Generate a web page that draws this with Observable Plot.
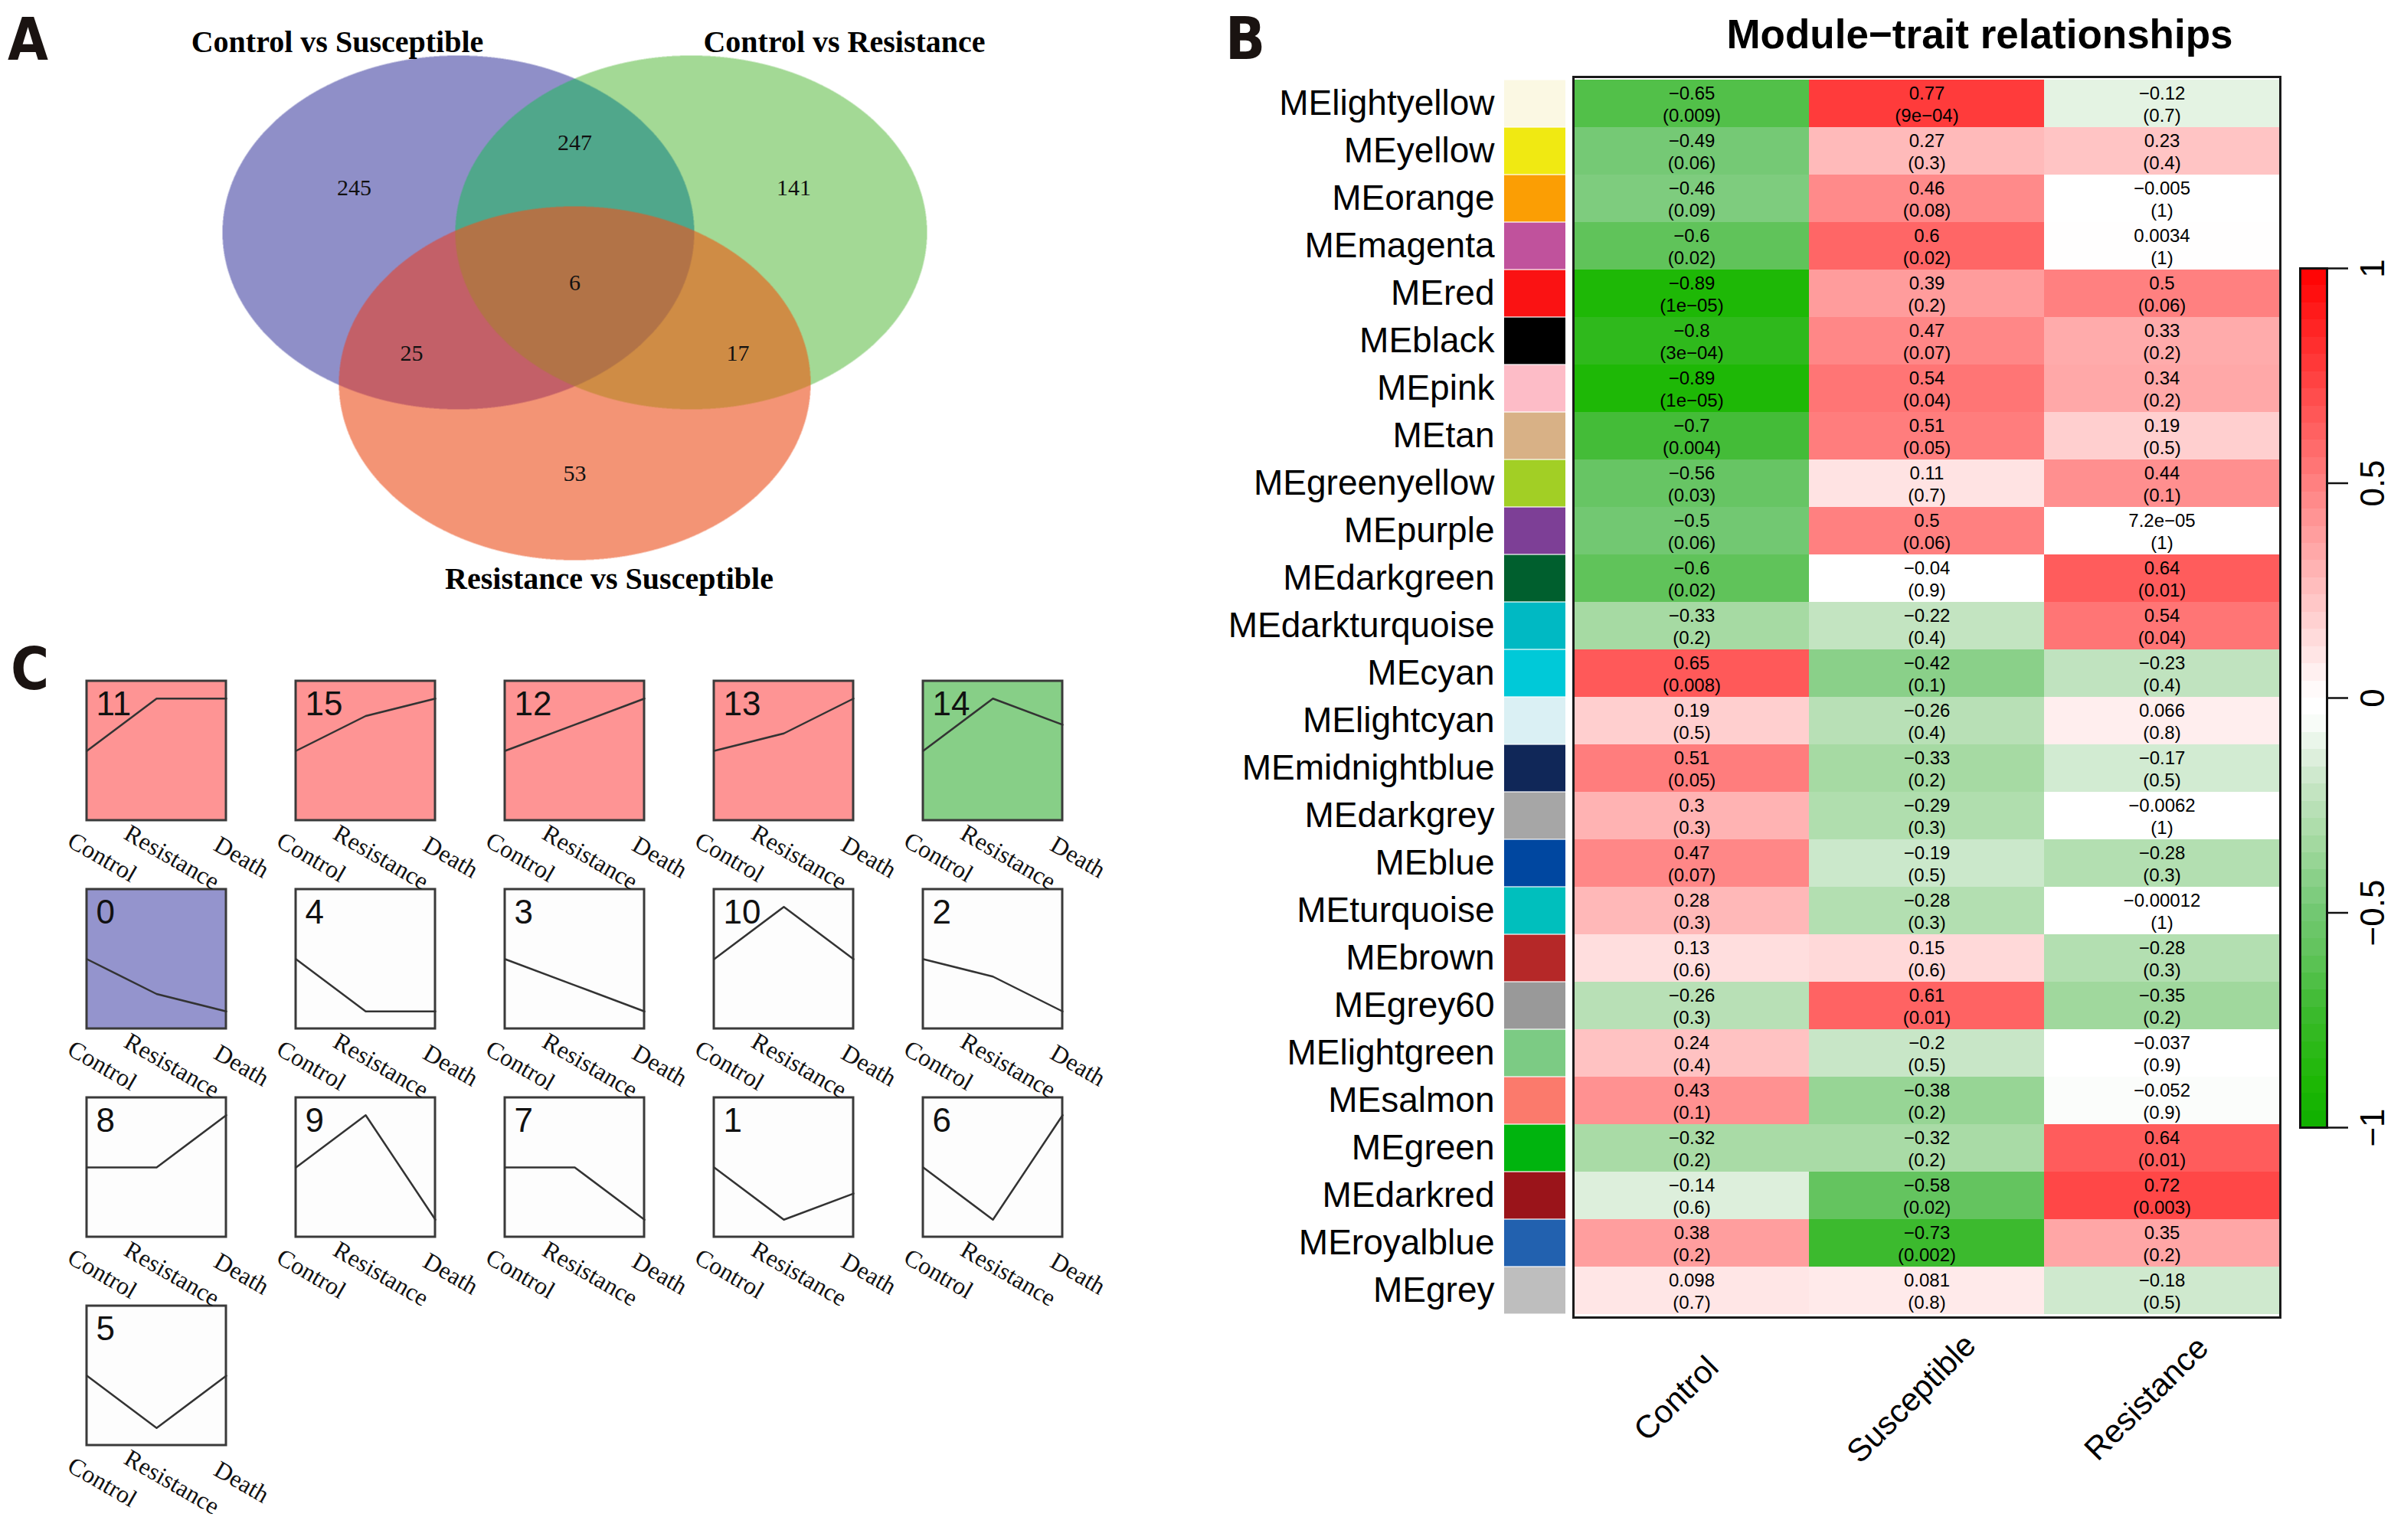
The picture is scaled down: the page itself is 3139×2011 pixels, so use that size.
<!DOCTYPE html>
<html><head><meta charset="utf-8">
<script src="https://cdn.jsdelivr.net/npm/d3@7"></script>
<script src="https://cdn.jsdelivr.net/npm/@observablehq/plot@0.6"></script>
<style>
html,body{margin:0;padding:0;background:#fff;}
#root{position:relative;width:3139px;height:2011px;background:#fff;overflow:hidden;}
.abs{position:absolute;}
.letter{position:absolute;line-height:1;white-space:nowrap;font-family:"Liberation Sans Narrow","DejaVu Sans Condensed","Liberation Sans",sans-serif;font-weight:bold;font-size:76px;color:#1a1311;}
.btitle{position:absolute;line-height:1;white-space:nowrap;font-family:"Liberation Sans",Arial,sans-serif;font-weight:bold;font-size:53px;color:#000;transform:translateX(-50%);}
</style></head><body><div id="root"></div>
<script>
// ---------------- DATA ----------------
// Panel A: Venn
const vennSets = ["Control vs Susceptible", "Control vs Resistance", "Resistance vs Susceptible"];
const vennRegionKeys = [1, 2, 4, 3, 5, 6, 7];           // membership bitmask of each region
const vennCounts = [245, 141, 53, 247, 25, 17, 6];

// Panel B: module-trait heatmap
const modules = ["MElightyellow","MEyellow","MEorange","MEmagenta","MEred","MEblack","MEpink","MEtan","MEgreenyellow","MEpurple","MEdarkgreen","MEdarkturquoise","MEcyan","MElightcyan","MEmidnightblue","MEdarkgrey","MEblue","MEturquoise","MEbrown","MEgrey60","MElightgreen","MEsalmon","MEgreen","MEdarkred","MEroyalblue","MEgrey"];
const moduleSwatches = ["#fbf8e3","#f0e912","#fb9e04","#c0529c","#fa1213","#000000","#fdbcc7","#d8b186","#a2cf25","#7d3f96","#005f2e","#00b9c3","#00c9d8","#daf0f4","#102758","#a6a6a6","#0047a0","#00bfbd","#b52828","#999999","#7ccb84","#fb7a6c","#00b40e","#9a141a","#2261af","#bebebe"];
const traits = ["Control","Susceptible","Resistance"];
const corControl     = [-0.65,-0.49,-0.46,-0.6,-0.89,-0.8,-0.89,-0.7,-0.56,-0.5,-0.6,-0.33,0.65,0.19,0.51,0.3,0.47,0.28,0.13,-0.26,0.24,0.43,-0.32,-0.14,0.38,0.098];
const pControl       = [0.009,0.06,0.09,0.02,1e-5,3e-4,1e-5,0.004,0.03,0.06,0.02,0.2,0.008,0.5,0.05,0.3,0.07,0.3,0.6,0.3,0.4,0.1,0.2,0.6,0.2,0.7];
const corSusceptible = [0.77,0.27,0.46,0.6,0.39,0.47,0.54,0.51,0.11,0.5,-0.04,-0.22,-0.42,-0.26,-0.33,-0.29,-0.19,-0.28,0.15,0.61,-0.2,-0.38,-0.32,-0.58,-0.73,0.081];
const pSusceptible   = [9e-4,0.3,0.08,0.02,0.2,0.07,0.04,0.05,0.7,0.06,0.9,0.4,0.1,0.4,0.2,0.3,0.5,0.3,0.6,0.01,0.5,0.2,0.2,0.02,0.002,0.8];
const corResistance  = [-0.12,0.23,-0.005,0.0034,0.5,0.33,0.34,0.19,0.44,7.2e-5,0.64,0.54,-0.23,0.066,-0.17,-0.0062,-0.28,-0.00012,-0.28,-0.35,-0.037,-0.052,0.64,0.72,0.35,-0.18];
const pResistance    = [0.7,0.4,1,1,0.06,0.2,0.2,0.5,0.1,1,0.01,0.04,0.4,0.8,0.5,1,0.3,1,0.3,0.2,0.9,0.9,0.01,0.003,0.2,0.5];
const colorbarTicks = [-1, -0.5, 0, 0.5, 1];

// Panel C: expression profiles
const stages = ["Control","Resistance","Death"];
const profileIds = [11,15,12,13,14,0,4,3,10,2,8,9,7,1,6,5];
const profileValues = [[0,1,1],[0,2,3],[0,1,2],[0,1,3],[0,2,1],[0,-2,-3],[0,-1,-1],[0,-1,-2],[0,1,0],[0,-1,-3],[0,0,1],[0,1,-1],[0,0,-1],[0,-2,-1],[0,-1,1],[0,-1,0]];
const profileFills = ["#fe9494","#fe9494","#fe9494","#fe9494","#87cf87","#9494cd","#fdfdfd","#fdfdfd","#fdfdfd","#fdfdfd","#fdfdfd","#fdfdfd","#fdfdfd","#fdfdfd","#fdfdfd","#fdfdfd"];

// ---------------- LAYOUT / STYLE ----------------
const vennLayout = {
  ellipses: [{cx:598, cy:303, rx:308, ry:231}, {cx:902, cy:303, rx:308, ry:231}, {cx:750, cy:500, rx:308, ry:231}],
  titlePos: [[440,67],[1102,67],[795,768]],
  regionPos: {1:[462,245], 2:[1036,245], 4:[750,618], 3:[750,186], 5:[537,461], 6:[963,461], 7:[750,369]},
  regionColors: {0:"#ffffff",1:"#8f8fc8",2:"#a3d995",4:"#f39475",3:"#50a78b",5:"#c36068",6:"#cf8c45",7:"#b27347"}
};
const heatColor = {
  type: "linear",
  domain: [-1, -0.89, -0.73, -0.6, -0.5, -0.33, -0.2, -0.04, 0, 1],
  range: ["#0fb000", "#1eb806", "#3cba2e", "#60c35a", "#72c872", "#a6daa3", "#c8e6c7", "#ffffff", "#ffffff", "#ff0000"],
  interpolate: "rgb", clamp: true
};
const SANS = "'Liberation Sans', Arial, Helvetica, sans-serif";
const SERIF = "'Liberation Serif', 'Times New Roman', serif";
const baseStyle = `max-width:none;overflow:visible;background:transparent;font-family:${SANS};`;

function rfmt(v) {
  const fixed = String(v);
  const sci = v.toExponential().replace(/e([+-])(\d)$/, "e$10$2");
  return (fixed.length <= sci.length ? fixed : sci).replace(/-/g, "\u2212");
}

const root = document.getElementById("root");
function place(node, left, top) {
  const d = document.createElement("div");
  d.className = "abs"; d.style.left = left + "px"; d.style.top = top + "px";
  d.appendChild(node); root.appendChild(d);
}
function addText(cls, text, left, top) {
  const d = document.createElement("div");
  d.className = cls; d.textContent = text; d.style.left = left + "px"; d.style.top = top + "px";
  root.appendChild(d);
}

// ---------------- PANEL A ----------------
const vennPlot = Plot.plot({
  width: 1300, height: 800, margin: 0, style: baseStyle,
  x: {domain: [0, 1300], range: [0, 1300], axis: null},
  y: {domain: [0, 800], range: [0, 800], axis: null},
  color: {type: "identity"},
  marks: [
    Plot.raster({
      x1: 0, y1: 0, x2: 1300, y2: 800, pixelSize: 0.5,
      fill: (x, y) => {
        let k = 0;
        const E = vennLayout.ellipses;
        for (let i = 0; i < 3; ++i) {
          const dx = (x - E[i].cx) / E[i].rx, dy = (y - E[i].cy) / E[i].ry;
          if (dx * dx + dy * dy <= 1) k |= 1 << i;
        }
        return vennLayout.regionColors[k];
      }
    }),
    Plot.text(vennCounts, {
      x: (d, i) => vennLayout.regionPos[vennRegionKeys[i]][0],
      y: (d, i) => vennLayout.regionPos[vennRegionKeys[i]][1],
      text: d => String(d), fontSize: 30, fontFamily: SERIF, fill: "#111", lineAnchor: "middle"
    }),
    Plot.text(vennSets, {
      x: (d, i) => vennLayout.titlePos[i][0], y: (d, i) => vennLayout.titlePos[i][1],
      text: d => d, fontSize: 40, fontWeight: "bold", fontFamily: SERIF, fill: "#000", lineAnchor: "bottom"
    })
  ]
});
place(vennPlot, 0, 0);

// ---------------- PANEL B ----------------
const cells = [];
const corCols = [corControl, corSusceptible, corResistance];
const pCols = [pControl, pSusceptible, pResistance];
modules.forEach((m, i) => traits.forEach((t, j) => {
  const r = corCols[j][i], p = pCols[j][i];
  cells.push({module: m, trait: t, r, label: rfmt(r) + "\n(" + rfmt(p) + ")"});
}));

// swatches + row labels
const swatchPlot = Plot.plot({
  width: 464, height: 2011, marginLeft: 384, marginRight: 0, marginTop: 100, marginBottom: 291,
  style: baseStyle,
  x: {type: "band", domain: ["swatch"], padding: 0, axis: null},
  y: {type: "band", domain: modules, padding: 0, axis: null},
  color: {type: "identity"},
  marks: [
    Plot.cell(modules, {x: () => "swatch", y: d => d, fill: (d, i) => moduleSwatches[i], insetTop: 0.6, insetBottom: 0.6}),
    Plot.text(modules, {y: d => d, frameAnchor: "left", textAnchor: "end", dx: -13, text: d => d, fontSize: 46, fill: "#000", lineAnchor: "middle"})
  ]
});
place(swatchPlot, 1580, 0);

// heatmap
const heatPlot = Plot.plot({
  width: 1000, height: 2011, marginLeft: 54, marginRight: 23, marginTop: 100, marginBottom: 291,
  style: baseStyle,
  x: {type: "band", domain: traits, padding: 0, axis: null},
  y: {type: "band", domain: modules, padding: 0, axis: null},
  color: heatColor,
  marks: [
    Plot.cell(cells, {x: "trait", y: "module", fill: "r"}),
    Plot.text(cells, {x: "trait", y: "module", text: "label", fontSize: 24, lineHeight: 1.18, fill: "#000"}),
    Plot.frame({stroke: "#1a1a1a", strokeWidth: 3}),
    Plot.text(traits, {x: d => d, frameAnchor: "bottom", text: d => d, rotate: -45, textAnchor: "middle", lineAnchor: "middle", dx: -20, dy: 106, fontSize: 42, fill: "#000"})
  ]
});
place(heatPlot, 2000, 0);

// colour bar
const cbBins = d3.range(50).map(i => ({lo: -1 + i * 0.04, hi: -1 + (i + 1) * 0.04}));
const cbPlot = Plot.plot({
  width: 149, height: 2011, marginLeft: 13, marginRight: 101, marginTop: 350, marginBottom: 539,
  style: baseStyle,
  x: {domain: [0, 1], axis: null},
  y: {domain: [-1, 1], axis: null},
  color: heatColor,
  marks: [
    Plot.rect(cbBins, {x1: 0, x2: 1, y1: "lo", y2: "hi", fill: d => (d.lo + d.hi) / 2, shapeRendering: "crispEdges"}),
    Plot.frame({stroke: "#111", strokeWidth: 3}),
    Plot.ruleY(colorbarTicks, {y: d => d, x1: 1, x2: 1.8, stroke: "#111", strokeWidth: 2.5}),
    Plot.text(colorbarTicks, {y: d => d, x: 2.72, text: d => String(d).replace("-", "\u2212"), rotate: -90, fontSize: 44, fill: "#000", lineAnchor: "middle"})
  ]
});
place(cbPlot, 2990, 0);

// ---------------- PANEL C ----------------
const profiles = profileIds.map((id, i) => ({id, col: i % 5, row: Math.floor(i / 5), fill: profileFills[i]}));
const points = profiles.flatMap((p, i) => {
  const vals = profileValues[i];
  const m = d3.max(vals, v => Math.abs(v)) || 1;
  return stages.map((s, j) => ({id: p.id, col: p.col, row: p.row, stage: s, v: vals[j] / m}));
});
const profPlot = Plot.plot({
  width: 1450, height: 1171, marginLeft: 113, marginRight: 63, marginTop: 49, marginBottom: 124,
  style: baseStyle,
  fx: {domain: [0, 1, 2, 3, 4], paddingInner: 91 / 273, paddingOuter: 0, axis: null},
  fy: {domain: [0, 1, 2, 3], paddingInner: 90 / 272, paddingOuter: 0, axis: null},
  x: {type: "point", domain: stages, padding: 0, axis: null},
  y: {domain: [-4 / 3, 4 / 3], axis: null},
  color: {type: "identity"},
  marks: [
    Plot.rect(profiles, {fx: "col", fy: "row", x1: () => stages[0], x2: () => stages[2], y1: -4 / 3, y2: 4 / 3, fill: "fill", stroke: "#3a3a3a", strokeWidth: 3}),
    Plot.line(points, {fx: "col", fy: "row", x: "stage", y: "v", z: "id", stroke: "#333", strokeWidth: 2.5}),
    Plot.text(profiles, {fx: "col", fy: "row", text: d => String(d.id), frameAnchor: "top-left", textAnchor: "start", lineAnchor: "top", dx: 12, dy: 13, fontSize: 44, fill: "#111"}),
    Plot.text(points, {fx: "col", fy: "row", x: "stage", text: "stage", frameAnchor: "bottom", rotate: 30, dx: 20, dy: 48, fontSize: 32, fontFamily: SERIF, fill: "#111", lineAnchor: "middle"})
  ]
});
place(profPlot, 0, 840);

// ---------------- TITLES / PANEL LETTERS ----------------
addText("letter", "A", 10, 14);
addText("letter", "B", 1600, 13);
addText("letter", "C", 14, 836);
addText("btitle", "Module\u2212trait relationships", 2585, 18);
</script></body></html>
